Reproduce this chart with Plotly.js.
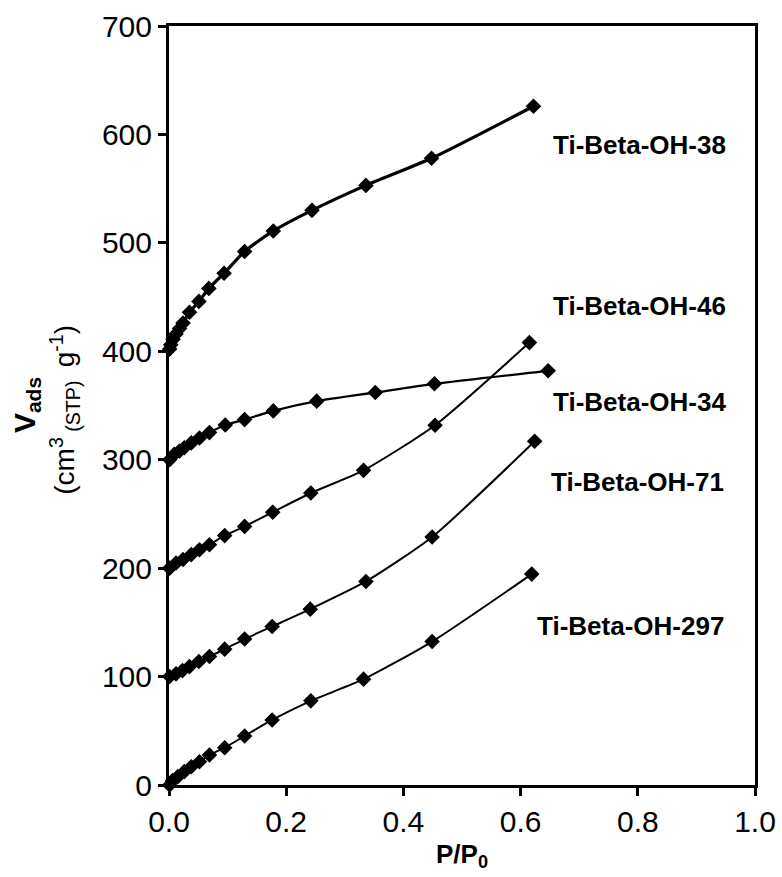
<!DOCTYPE html>
<html>
<head>
<meta charset="utf-8">
<script src="https://cdn.plot.ly/plotly-3.0.1.min.js"></script>
<style>html,body{margin:0;padding:0;background:#fff;}#chart{width:782px;height:877px;}</style>
</head>
<body>
<div id="chart"></div>
<script>
// Ti-Beta-OH-38 (offset +400)
const x38 = [0.001, 0.003, 0.007, 0.012, 0.018, 0.024, 0.035, 0.051, 0.068, 0.094, 0.129, 0.178, 0.244, 0.336, 0.448, 0.622];
const y38 = [402, 406, 411, 416, 421, 426, 436, 446, 458, 472, 492, 511, 530, 553, 578, 626];
// Ti-Beta-OH-34 (offset +300)
const x34 = [0.001, 0.009, 0.018, 0.026, 0.038, 0.052, 0.069, 0.096, 0.129, 0.178, 0.252, 0.352, 0.453, 0.647];
const y34 = [300, 305, 308, 311, 315.5, 320, 325, 332, 337, 345, 354, 362, 370, 382];
// Ti-Beta-OH-46 (offset +200)
const x46 = [0.001, 0.012, 0.024, 0.038, 0.052, 0.069, 0.095, 0.129, 0.177, 0.242, 0.332, 0.454, 0.615];
const y46 = [200, 204.7, 208, 212.5, 217, 221.6, 230, 238.5, 251.6, 269.3, 290.2, 331.8, 408];
// Ti-Beta-OH-71 (offset +100)
const x71 = [0.001, 0.012, 0.023, 0.035, 0.051, 0.069, 0.095, 0.129, 0.176, 0.241, 0.336, 0.449, 0.624];
const y71 = [100, 102.5, 105.5, 109.2, 113.9, 118.5, 125.3, 134.6, 146.2, 162.2, 187.7, 228.7, 317];
// Ti-Beta-OH-297
const x297 = [0.001, 0.006, 0.015, 0.026, 0.038, 0.052, 0.069, 0.095, 0.129, 0.176, 0.242, 0.332, 0.449, 0.619];
const y297 = [0, 4, 7.7, 12.3, 16.9, 21.5, 27.7, 34.4, 45.2, 60, 77.6, 97.6, 132.3, 194.5];

const seriesNames = ['Ti-Beta-OH-38', 'Ti-Beta-OH-46', 'Ti-Beta-OH-34', 'Ti-Beta-OH-71', 'Ti-Beta-OH-297'];
const labelX = [0.954, 0.954, 0.954, 0.951, 0.951];
const labelY = [590, 442, 353.5, 279, 146.6];

const xTickVals = [0, 0.2, 0.4, 0.6, 0.8, 1.0];
const xTickText = ['0.0', '0.2', '0.4', '0.6', '0.8', '1.0'];
const yTickVals = [0, 100, 200, 300, 400, 500, 600, 700];

function tr(x, y, name, w) {
  return {
    x: x, y: y, name: name, type: 'scatter', mode: 'lines+markers',
    line: {color: '#000', width: w, shape: 'spline', smoothing: 0.6},
    marker: {symbol: 'diamond', size: 12, color: '#000'},
    cliponaxis: false, showlegend: false
  };
}

const data = [
  tr(x38, y38, seriesNames[0], 3.2),
  tr(x46, y46, seriesNames[1], 2),
  tr(x34, y34, seriesNames[2], 2.3),
  tr(x71, y71, seriesNames[3], 2),
  tr(x297, y297, seriesNames[4], 2)
];

const font = 'Liberation Sans, Arial, sans-serif';
const annotations = seriesNames.map((n, i) => ({
  x: labelX[i], y: labelY[i], xref: 'x', yref: 'y',
  text: '<b>' + n + '</b>', showarrow: false, xanchor: 'right', yanchor: 'middle',
  font: {family: font, size: 26, color: '#000'}
}));
annotations.push({
  xref: 'paper', yref: 'paper', x: -0.243, y: 0.50,
  text: '<b>V<sub>ads</sub></b>', showarrow: false, textangle: -90,
  xanchor: 'center', yanchor: 'middle',
  font: {family: font, size: 30, color: '#000'}
});
annotations.push({
  xref: 'paper', yref: 'paper', x: -0.178, y: 0.494,
  text: '(cm<sup>3</sup><sub> (STP) </sub> g<sup>-1</sup>)', showarrow: false, textangle: -90,
  xanchor: 'center', yanchor: 'middle',
  font: {family: font, size: 28, color: '#000'}
});

const layout = {
  width: 782, height: 877,
  margin: {l: 169, r: 27, t: 26, b: 92},
  paper_bgcolor: '#fff', plot_bgcolor: '#fff',
  font: {family: font, size: 30, color: '#000'},
  showlegend: false,
  xaxis: {
    range: [0, 1], tickvals: xTickVals, ticktext: xTickText,
    showgrid: false, zeroline: false, showline: true, linecolor: '#000', linewidth: 3, mirror: true,
    ticks: 'outside', ticklen: 8, tickwidth: 3, tickcolor: '#000',
    tickfont: {family: font, size: 30, color: '#000'},
    title: {text: '<b>P/P<sub>0</sub></b>', font: {family: font, size: 26, color: '#000'}, standoff: 8}
  },
  yaxis: {
    range: [0, 700], tickvals: yTickVals,
    showgrid: false, zeroline: false, showline: true, linecolor: '#000', linewidth: 3, mirror: true,
    ticks: 'outside', ticklen: 8, tickwidth: 3, tickcolor: '#000',
    tickfont: {family: font, size: 30, color: '#000'}
  },
  annotations: annotations
};

Plotly.newPlot('chart', data, layout, {displayModeBar: false, staticPlot: true});
</script>
</body>
</html>
